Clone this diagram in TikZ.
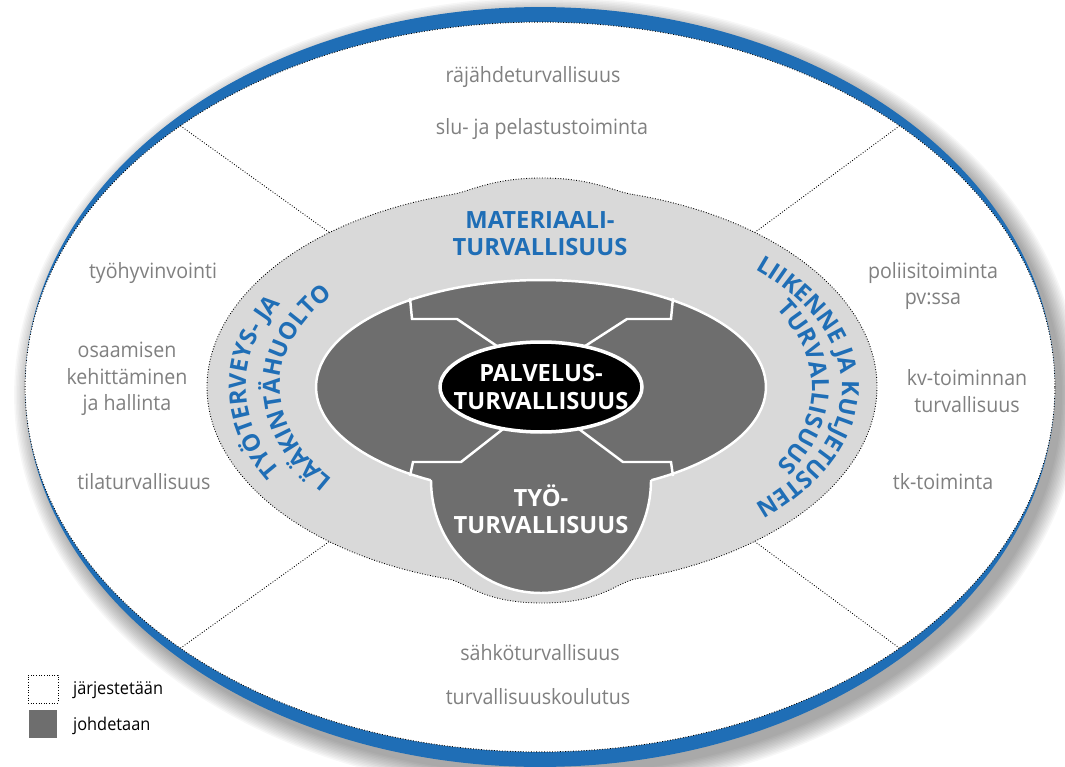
\documentclass[tikz,border=0pt]{standalone}
\usepackage{fontspec}
\setmainfont[FakeStretch=0.93]{Open Sans}
\newfontfamily\capsfont{Open Sans}
\usetikzlibrary{shapes.geometric,decorations.text}
\definecolor{ringBlue}{HTML}{1F6EB6}
\colorlet{paleGray}{black!15}
\colorlet{darkGray}{black!57}
\colorlet{softGray}{black!50}

\begin{document}
\begin{tikzpicture}[x=0.02cm,y=-0.02cm,
    oval/.style={ellipse,inner sep=0pt,outer sep=0pt},
    dotline/.style={densely dotted,line width=0.5pt},
    divider/.style={white,line width=1.4pt,line join=miter},
    plain/.style={text=softGray,font=\fontsize{12}{15}\selectfont,align=center},
    caps/.style={font=\capsfont\bfseries\fontsize{13.5}{15.4}\selectfont,align=center}]
  \useasboundingbox (0,0) rectangle (1065,767);

  \foreach \i in {0,...,12}
    \fill[black,opacity=0.03] (547,395) ellipse[x radius={10.3cm+\i*0.03cm},y radius={7.6cm+\i*0.03cm}];

  \node[oval,fill=ringBlue,minimum width=20.6cm,minimum height=15.2cm] (ring) at (540,387) {};
  \node[oval,fill=white,draw,dotline,minimum width=20.6cm,minimum height=14.6cm] (outer) at (540,387) {};
  \node[oval,minimum width=13.4cm,minimum height=8cm] (blobE) at (542,387) {};

  \foreach \a in {36,144,216,324}
    \draw[dotline] (outer.\a) -- (blobE.\a);

  \filldraw[fill=paleGray,dotline] (634.3,194.7)
    arc[start angle=74,end angle=-74,x radius=6.7cm,y radius=4cm]
    .. controls (615,584) and (600,603) .. (542,603) .. controls (484,603) and (469,584) .. (449.7,579.3)
    arc[start angle=-106,end angle=-254,x radius=6.7cm,y radius=4cm]
    .. controls (470,192) and (490,178) .. (542,178) .. controls (594,178) and (614,192) .. (634.3,194.7)
    -- cycle;

  \node[oval,fill=darkGray,draw=white,line width=1.4pt,minimum width=9cm,minimum height=4.28cm] (core) at (541,387) {};
  \fill[darkGray] (431,470) -- (431,480) .. controls (431,544) and (480,593) .. (541,593)
    .. controls (602,593) and (651,544) .. (651,480) -- (651,470) -- cycle;
  \draw[divider] (431,480) .. controls (431,544) and (480,593) .. (541,593)
    .. controls (602,593) and (651,544) .. (651,480);

  \node[oval,fill=black,draw=white,line width=2pt,minimum width=4.04cm,minimum height=1.8cm] (pal) at (541,387) {};
  \draw[divider] (410,298) -- (412,319) -- (457,319) -- (pal.137);
  \draw[divider] (673,298) -- (671,319) -- (627,319) -- (pal.43);
  \draw[divider] (pal.228) -- (461,462) -- (413,462) -- (410,476);
  \draw[divider] (pal.312) -- (623,462) -- (671,462) -- (673,476);

  \node[caps,text=white] (palText) at (pal.center) {PALVELUS-\\TURVALLISUUS};
  \node[caps,text=white] (tyoText) at (541,509) {TYÖ-\\TURVALLISUUS};
  \node[caps,text=ringBlue] (matText) at (540,234) {MATERIAALI-\\TURVALLISUUS};

  \path[decorate,decoration={text along path,text align=center,
      text={|\capsfont\bfseries\fontsize{13.5}{15}\selectfont\color{ringBlue}|TYÖTERVEYS- JA}}]
    (394,540.3) arc[start angle=240,end angle=120,x radius=5.92cm,y radius=3.54cm];
  \path[decorate,decoration={text along path,text align=center,
      text={|\capsfont\bfseries\fontsize{13.5}{15}\selectfont\color{ringBlue}|LÄÄKINTÄHUOLTO}}]
    (411,519.5) arc[start angle=240,end angle=120,x radius=5.24cm,y radius=3.06cm];
  \path[decorate,decoration={text along path,text align=center,
      text={|\capsfont\bfseries\fontsize{13.5}{15}\selectfont\color{ringBlue}|LIIKENNE JA KULJETUSTEN}}]
    (692,242.4) arc[start angle=60,end angle=-60,x radius=6cm,y radius=3.34cm];
  \path[decorate,decoration={text along path,text align=center,
      text={|\capsfont\bfseries\fontsize{13.5}{15}\selectfont\color{ringBlue}|TURVALLISUUS}}]
    (677,251) arc[start angle=60,end angle=-60,x radius=5.4cm,y radius=3.14cm];

  \node[plain] (rajahde) at (533,77) {räjähdeturvallisuus};
  \node[plain] (pelastus) at (542,129) {slu- ja pelastustoiminta};
  \node[plain] (hyvinvointi) at (153,273) {työhyvinvointi};
  \node[plain] (osaaminen) at (127,379) {osaamisen\\kehittäminen\\ja hallinta};
  \node[plain] (tila) at (144,482) {tilaturvallisuus};
  \node[plain] (poliisi) at (933,286) {poliisitoiminta\\pv:ssa};
  \node[plain] (kv) at (967,391) {kv-toiminnan\\turvallisuus};
  \node[plain] (tk) at (943,482) {tk-toiminta};
  \node[plain] (sahko) at (540,653) {sähköturvallisuus};
  \node[plain] (koulutus) at (538,697) {turvallisuuskoulutus};

  \node[draw,dotline,minimum width=0.6cm,minimum height=0.56cm,inner sep=0pt] (keyOrg) at (43,689) {};
  \node[fill=darkGray,minimum width=0.58cm,minimum height=0.56cm,inner sep=0pt] (keyLead) at (43,724) {};
  \node[anchor=west,font=\fontsize{10}{13}\selectfont] (keyOrgText) at (67,690) {järjestetään};
  \node[anchor=west,font=\fontsize{10}{13}\selectfont] (keyLeadText) at (67,726) {johdetaan};
\end{tikzpicture}
\end{document}
